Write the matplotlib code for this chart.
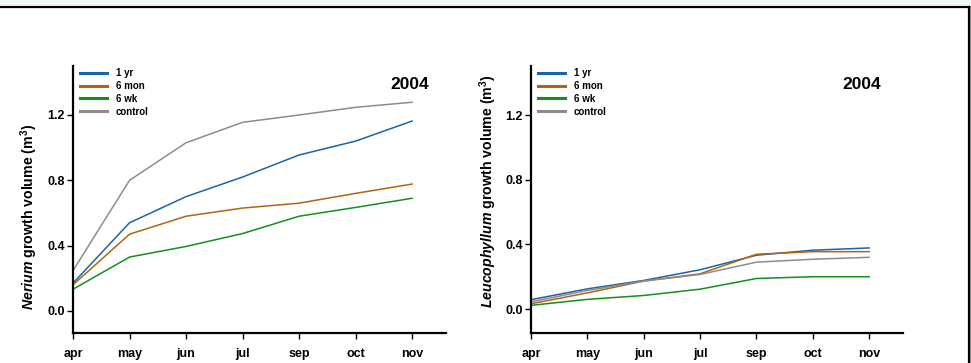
import matplotlib
matplotlib.use("Agg")
import matplotlib.pyplot as plt
from matplotlib.lines import Line2D
from matplotlib.patches import Rectangle

plt.rcParams['font.family'] = ['Liberation Sans', 'DejaVu Sans']
plt.rcParams['font.weight'] = 'bold'
plt.rcParams['mathtext.fontset'] = 'custom'
plt.rcParams['mathtext.it'] = 'Liberation Sans:italic:bold'
plt.rcParams['mathtext.rm'] = 'Liberation Sans:bold'

months = ['apr', 'may', 'jun', 'jul', 'sep', 'oct', 'nov']
series = ['1 yr', '6 mon', '6 wk', 'control']
colors = ['#1a64a8', '#b0650e', '#11901a', '#8c8c8c']

# Nerium
ner_1yr = [0.17, 0.54, 0.70, 0.82, 0.955, 1.04, 1.163]
ner_6mon = [0.16, 0.47, 0.58, 0.63, 0.66, 0.72, 0.777]
ner_6wk = [0.133, 0.33, 0.395, 0.474, 0.58, 0.634, 0.69]
ner_ctrl = [0.247, 0.80, 1.03, 1.155, 1.20, 1.247, 1.278]

# Leucophyllum
leu_1yr = [0.058, 0.125, 0.177, 0.243, 0.333, 0.364, 0.378]
leu_6mon = [0.033, 0.10, 0.173, 0.218, 0.339, 0.355, 0.355]
leu_6wk = [0.023, 0.06, 0.084, 0.123, 0.189, 0.20, 0.20]
leu_ctrl = [0.045, 0.115, 0.173, 0.214, 0.29, 0.308, 0.32]

yticks = [0.0, 0.4, 0.8, 1.2]

fig = plt.figure(figsize=(9.71, 3.63), dpi=100)

# page frame
fig.add_artist(Rectangle((0, 1 - 5/363), 1, 5/363, transform=fig.transFigure,
                         color='#f1f7f1', lw=0))
fig.add_artist(Line2D([0, 969/971], [1 - 6.5/363, 1 - 6.5/363], transform=fig.transFigure,
                      color='black', lw=1.6))
fig.add_artist(Line2D([969/971, 969/971], [0, 1 - 6.5/363], transform=fig.transFigure,
                      color='black', lw=1.6))
fig.add_artist(Rectangle((970/971, 0), 1/971, 1 - 6/363, transform=fig.transFigure,
                         color='#a0a0a0', lw=0))

ax1 = fig.add_axes([73/971, 30/363, 373/971, 267/363])
ax2 = fig.add_axes([531/971, 30/363, 372/971, 267/363])

panels = [
    (ax1, [ner_1yr, ner_6mon, ner_6wk, ner_ctrl], 'Nerium', (-0.135, 1.50),
     (-0.089, 0.434), 0.903),
    (ax2, [leu_1yr, leu_6mon, leu_6wk, leu_ctrl], 'Leucophyllum', (-0.148, 1.503),
     (-0.086, 0.53), 0.89),
]

x = list(range(len(months)))
for ax, data, genus, ylim, label_xy, title_x in panels:
    for name, vals, c in zip(series, data, colors):
        ax.plot(x, vals, color=c, lw=1.1, label=name)
    ax.set_xlim(0, 6.6)
    ax.set_ylim(*ylim)
    ax.set_xticks(x)
    ax.set_xticklabels(months)
    ax.set_yticks(yticks)
    ax.set_yticklabels(['%.1f' % v for v in yticks])
    for s in ['top', 'right']:
        ax.spines[s].set_visible(False)
    for s in ['left', 'bottom']:
        ax.spines[s].set_linewidth(1.6)
    ax.tick_params(axis='both', labelsize=9, width=1, length=4, pad=2)
    ax.tick_params(axis='x', pad=7)
    ax.set_ylabel(r'$\mathit{%s}$ growth volume (m$^3$)' % genus, fontsize=10.2,
                  fontweight='bold')
    ax.yaxis.set_label_coords(*label_xy)
    ax.text(title_x, 0.93, '2004', transform=ax.transAxes, ha='center', va='center',
            fontsize=12.5, fontweight='bold')
    leg = ax.legend(loc='upper left', bbox_to_anchor=(0.0, 1.018), frameon=False,
                    fontsize=7, handlelength=2.8, handletextpad=0.9,
                    labelspacing=0.3, borderaxespad=0.3)
    for h in leg.get_lines():
        h.set_linewidth(2.2)

fig.savefig('out.png', dpi=100)
